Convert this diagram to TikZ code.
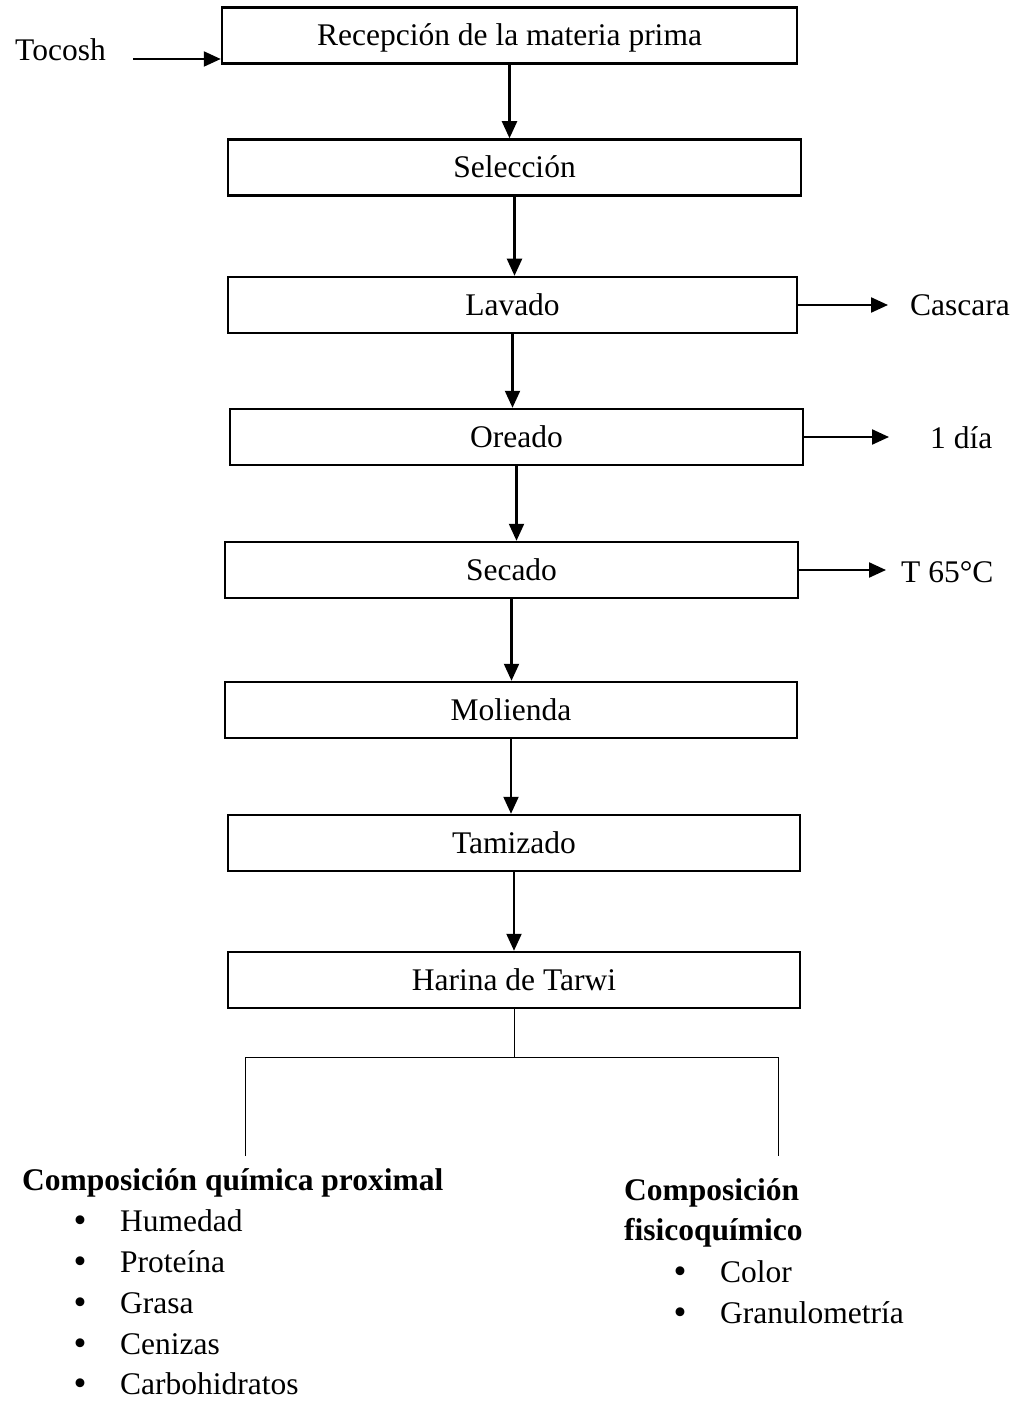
\documentclass[tikz,border=0pt]{standalone}
\usepackage{fontspec}
\setmainfont{Liberation Serif}
\usetikzlibrary{arrows.meta}
\begin{document}
\begin{tikzpicture}[x=1pt,y=-1pt,
  txt/.style={font=\fontsize{31.5}{36}\selectfont},
  box/.style={txt, draw, line width=2.5pt, minimum width=573pt, minimum height=56pt, inner sep=0pt, text height=21pt, text depth=0pt},
  lbl/.style={txt, anchor=base west, inner sep=0pt, text height=21pt, text depth=0pt},
  hd/.style={anchor=base west, inner sep=0pt, font=\fontsize{31.5}{36}\selectfont\bfseries},
  bul/.style={anchor=base, inner sep=0pt, text height=18pt, text depth=0pt, font=\fontsize{37}{37}\selectfont},
  arr/.style={line width=2.2pt, -{Triangle[length=17pt,width=15pt]}},
  tree/.style={line width=1pt}]
\useasboundingbox (0,0) rectangle (1021,1404);

% process boxes
\node[box, minimum width=575pt] (rec) at (509.5,35.5) {Recepción de la materia prima};
\node[box] (sel) at (514.5,167.5) {Selección};
\node[box, minimum width=569pt] (lav) at (512.5,305) {Lavado};
\node[box] (ore) at (516.5,437) {Oreado};
\node[box] (sec) at (511.5,570) {Secado};
\node[box, minimum width=572pt] (mol) at (511,710) {Molienda};
\node[box, minimum width=572pt] (tam) at (514,843) {Tamizado};
\node[box, minimum width=572pt] (har) at (514,980) {Harina de Tarwi};

% side labels
\node[lbl] (toc) at (15,61) {Tocosh};
\node[lbl] (cas) at (910,316) {Cascara};
\node[lbl] (dia) at (930,448) {1 día};
\node[lbl] (tem) at (901,582) {T 65°C};

% main flow arrows
\draw[arr] (rec.south) -- (rec.south |- sel.north);
\draw[arr] (sel.south) -- (sel.south |- lav.north);
\draw[arr] (lav.south) -- (lav.south |- ore.north);
\draw[arr] (ore.south) -- (ore.south |- sec.north);
\draw[arr] (sec.south) -- (sec.south |- mol.north);
\draw[arr] (mol.south) -- (mol.south |- tam.north);
\draw[arr] (tam.south) -- (tam.south |- har.north);

% input arrow
\coordinate (tocA) at (133,59);
\draw[arr] (tocA) -- (tocA -| rec.west);

% output arrows
\draw[arr, shorten >=22pt] (lav.east) -- (lav.east -| cas.west);
\draw[arr, shorten >=41pt] (ore.east) -- (ore.east -| dia.west);
\draw[arr, shorten >=15pt] (sec.east) -- (sec.east -| tem.west);

% split tree
\coordinate (jy) at (0,1057);
\coordinate (j) at (har.south |- jy);
\coordinate (bl) at (245,1057);
\coordinate (br) at (778,1057);
\coordinate (bl2) at (245,1156);
\coordinate (br2) at (778,1156);
\draw[tree] (har.south) -- (j);
\draw[tree] (bl2) -- (bl) -- (br) -- (br2);

% left analysis block
\node[hd] (h1) at (22,1190) {Composición química proximal};
\node[bul] (b1) at (80,1232) {•};
\node[bul] (b2) at (80,1273) {•};
\node[bul] (b3) at (80,1314) {•};
\node[bul] (b4) at (80,1355) {•};
\node[bul] (b5) at (80,1395) {•};
\node[lbl] (i1) at (120,1231) {Humedad};
\node[lbl] (i2) at (120,1272) {Proteína};
\node[lbl] (i3) at (120,1313) {Grasa};
\node[lbl] (i4) at (120,1354) {Cenizas};
\node[lbl] (i5) at (120,1394) {Carbohidratos};

% right analysis block
\node[hd] (h2a) at (624,1200) {Composición};
\node[hd] (h2b) at (624,1240) {fisicoquímico};
\node[bul] (b6) at (680,1283) {•};
\node[bul] (b7) at (680,1324) {•};
\node[lbl] (i6) at (720,1282) {Color};
\node[lbl] (i7) at (720,1323) {Granulometría};
\end{tikzpicture}
\end{document}
